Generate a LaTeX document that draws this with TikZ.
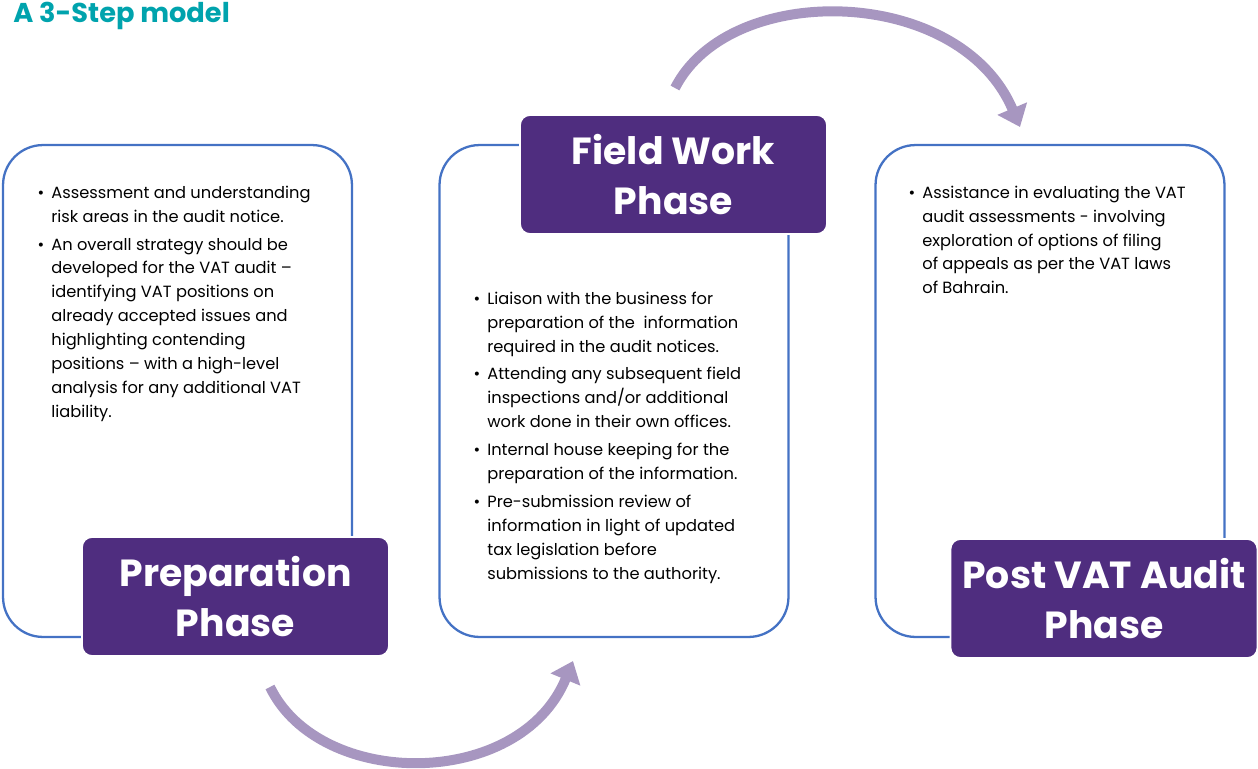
\documentclass[tikz,border=0pt]{standalone}
\usepackage{fontspec}
\setmainfont{Poppins}
\usetikzlibrary{arrows.meta}
\definecolor{phasepurple}{RGB}{79,45,127}
\definecolor{boxblue}{RGB}{68,114,196}
\definecolor{arrowlilac}{RGB}{167,150,192}
\definecolor{titleteal}{RGB}{0,163,173}
\newcommand{\bul}{\llap{\textbullet\hspace{0.14cm}}}

\begin{document}
\begin{tikzpicture}[x=0.02cm,y=-0.02cm,
    stepframe/.style={draw=boxblue,line width=1.3pt,rounded corners=0.8cm,
      minimum width=6.98cm,minimum height=9.84cm},
    phasebox/.style={fill=phasepurple,draw=white,line width=1pt,rounded corners=0.2cm,
      minimum width=6.14cm,minimum height=2.38cm,text=white,align=center,
      font=\bfseries\fontsize{21.5}{28}\selectfont},
    bodytext/.style={anchor=north west,inner sep=0pt,align=left,
      font=\fontsize{9.25}{13.6}\selectfont},
    flow/.style={draw=arrowlilac,line width=0.2cm,
      -{Triangle[length=0.4cm,width=0.62cm]}}]
      \useasboundingbox (0,0) rectangle (1258,768);
      \node[anchor=west,text=titleteal,font=\bfseries\fontsize{15.5}{18}\selectfont,inner sep=0pt] (heading) at (13,16) {A 3-Step model};

      \node[stepframe] (frame1) at (177.5,391) {};
      \node[stepframe] (frame2) at (614,391) {};
      \node[stepframe] (frame3) at (1050,391) {};

      \node[phasebox] (prep) at (235.5,596.5) {Preparation\\Phase};
      \node[phasebox] (field) at (673.5,174.5) {Field Work\\Phase};
      \node[phasebox] (post) at (1104,598.5) {Post VAT Audit\\Phase};

      \node[bodytext] (prepitems) at (51,185.5) {\bul Assessment and understanding\\
        risk areas in the audit notice.\\[0.08cm]
        \bul An overall strategy should be\\
        developed for the VAT audit –\\
        identifying VAT positions on\\
        already accepted issues and\\
        highlighting contending\\
        positions – with a high-level\\
        analysis for any additional VAT\\
        liability.};
      \node[bodytext] (fielditems) at (487,291.5) {\bul Liaison with the business for\\
        preparation of the \ information\\
        required in the audit notices.\\[0.08cm]
        \bul Attending any subsequent field\\
        inspections and/or additional\\
        work done in their own offices.\\[0.08cm]
        \bul Internal house keeping for the\\
        preparation of the information.\\[0.08cm]
        \bul Pre-submission review of\\
        information in light of updated\\
        tax legislation before\\
        submissions to the authority.};
      \node[bodytext] (postitems) at (922,185.5) {\bul Assistance in evaluating the VAT\\
        audit assessments - involving\\
        exploration of options of filing\\
        of appeals as per the VAT laws\\
        of Bahrain.};

      \coordinate (low start) at (270,687);
      \coordinate (low end) at (573,661);
      \coordinate (high start) at (675,88);
      \coordinate (high end) at (1020,127);
      \draw[flow] (low start) .. controls (320,790) and (520,790) .. (low end);
      \draw[flow] (high start) .. controls (730,-20) and (960,-15) .. (high end);
\end{tikzpicture}
\end{document}
